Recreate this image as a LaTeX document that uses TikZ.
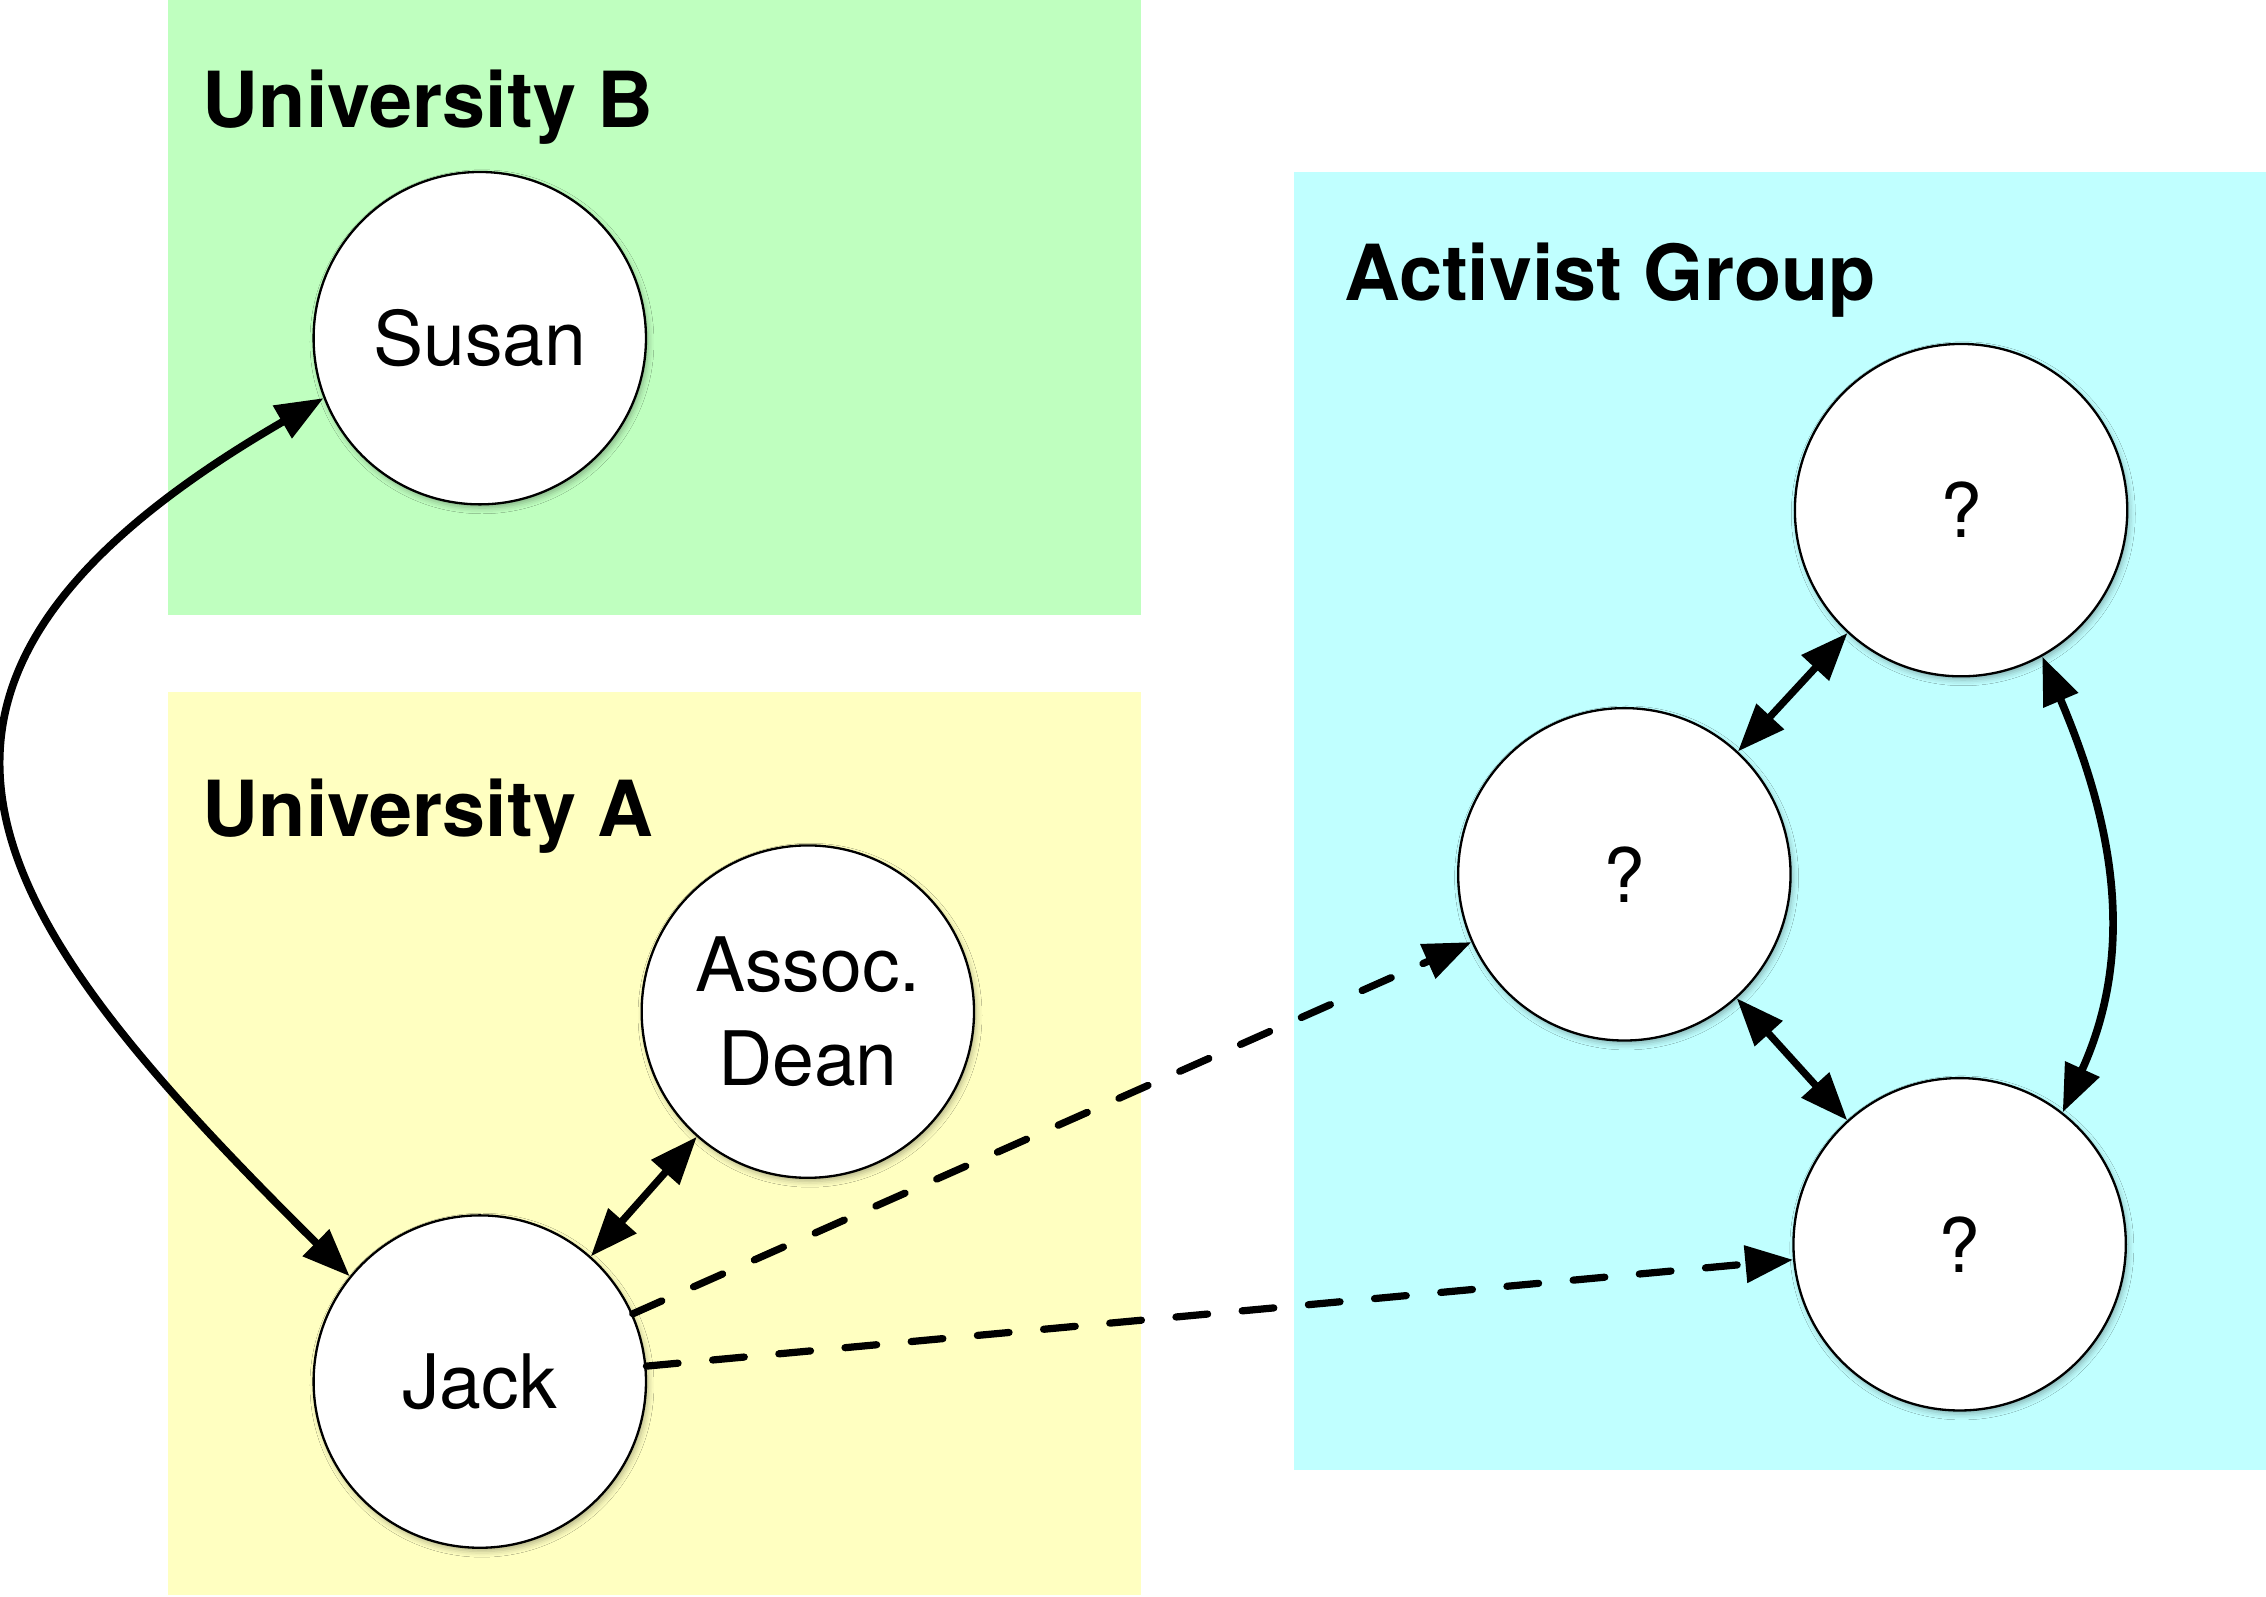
\documentclass[tikz,border=0pt]{standalone}
\usepackage{fontspec}
\setmainfont{TeX Gyre Heros}
\usetikzlibrary{arrows.meta,shadows.blur}
\definecolor{ubgreen}{RGB}{191,255,191}
\definecolor{uayellow}{RGB}{255,255,193}
\definecolor{agcyan}{RGB}{192,255,255}
\begin{document}
\begin{tikzpicture}[x=1pt,y=-1pt,
  person/.style={circle,draw,line width=1.6pt,fill=white,minimum size=230pt,
    inner sep=0pt,align=center,font=\fontsize{52}{65}\selectfont,
    blur shadow={shadow xshift=1.5pt,shadow yshift=-2.5pt,shadow blur radius=4pt,shadow opacity=30}},
  grouptitle/.style={anchor=base west,inner sep=0pt,font=\fontsize{53.5}{60}\selectfont\bfseries},
  link/.style={line width=5pt,{Triangle[length=33pt,width=25pt]}-{Triangle[length=33pt,width=25pt]}},
  thicklink/.style={line width=5.3pt,{Triangle[length=33pt,width=25pt]}-{Triangle[length=33pt,width=25pt]}},
  dashlink/.style={line width=5pt,line cap=round,dash pattern=on 22pt off 24pt,-{Triangle[length=33pt,width=25pt]}}]
\useasboundingbox (0,0) rectangle (1568,1105);
% group areas
\fill[ubgreen] (116.5,0) rectangle (789.5,425.3);
\fill[uayellow] (116.5,478.8) rectangle (789.5,1103.7);
\fill[agcyan] (895.4,118.7) rectangle (1568,1017);
\node[grouptitle] (tb) at (140,88) {University B};
\node[grouptitle] (ta) at (140,579) {University A};
\node[grouptitle] (tg) at (930,208) {Activist Group};
% people
\node[person] (susan) at (332,234) {Susan};
\node[person] (jack) at (332,956) {Jack};
\node[person] (dean) at (559,700) {Assoc.\\Dean};
\node[person] (qtop) at (1357,353) {?};
\node[person] (qmid) at (1124,605) {?};
\node[person] (qbot) at (1356,861) {?};
% connectors
\draw[thicklink] (susan.201) .. controls (-124,477) and (-6.5,636.5) .. (jack.141);
\draw[link] (jack) -- (dean);
\draw[link] (qmid) -- (qtop);
\draw[link] (qmid) -- (qbot);
\draw[thicklink] (qtop.-61) .. controls (1462,569) and (1478.6,657) .. (qbot.52);
\draw[dashlink] (jack) -- (qmid);
\draw[dashlink] (jack) -- (qbot);
\end{tikzpicture}
\end{document}
